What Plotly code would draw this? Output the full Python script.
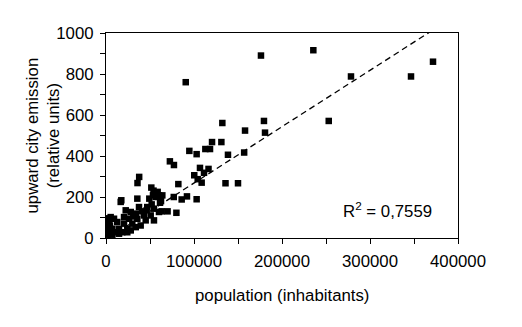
import plotly.graph_objects as go

population = [90600, 176100, 235600, 278400, 346600, 371600, 253100, 132200, 179500, 158000,
              180700, 120500, 131100, 94700, 103000, 112900, 118200, 138600, 157000, 106800,
              111400, 116500, 100300, 104200, 108700, 135800, 150000, 103000, 92000, 86000,
              77000, 80000, 70000, 63300, 72600, 77200, 82200, 37700, 35800, 51500,
              54000, 58700, 64000, 62500, 61400, 53400, 60200, 35600, 17400, 16700,
              56500, 37500, 46900, 54500, 22400, 28100, 33800, 43200, 50800, 60200,
              20500, 26100, 35600, 45100, 54500, 5300, 9100, 12800, 3400, 20500,
              29900, 39400, 1500, 7200, 14800, 24200, 33800, 3400, 11000, 18500,
              28100, 1500, 7200, 14800, 24200, 2300, 4500, 49200, 51900, 46200,
              41000, 31000]
emission = [760, 890, 916, 788, 788, 860, 571, 561, 571, 524,
            514, 468, 468, 425, 409, 434, 434, 406, 417, 342,
            318, 337, 306, 287, 270, 267, 267, 189, 203, 188,
            200, 123, 130, 130, 374, 356, 263, 298, 268, 246,
            231, 225, 208, 180, 172, 208, 208, 192, 184, 176,
            200, 151, 151, 143, 135, 127, 119, 110, 110, 127,
            102, 94, 94, 86, 86, 102, 94, 78, 70, 70,
            70, 61, 45, 45, 45, 45, 53, 28, 28, 28,
            37, 16, 16, 21, 28, 96, 61, 192, 164, 135,
            130, 105]

trend_slope = 0.00275
trend_intercept = -7
r2_label = "R<sup>2</sup> = 0,7559"

x_ticks = [0, 100000, 200000, 300000, 400000]
y_ticks = [0, 200, 400, 600, 800, 1000]

FONT = "Liberation Sans, Arial, sans-serif"
FS = 16.8

trend_x = [min(population), max(population)]
trend_y = [trend_slope * v + trend_intercept for v in trend_x]

fig = go.Figure()
fig.add_trace(go.Scatter(
    x=trend_x, y=trend_y, mode="lines",
    line=dict(color="black", width=1.3, dash="6px,4px"),
    showlegend=False, hoverinfo="skip"))
fig.add_trace(go.Scatter(
    x=population, y=emission, mode="markers",
    marker=dict(symbol="square", size=6.5, color="black", line=dict(width=0)),
    showlegend=False))

fig.update_layout(
    width=522, height=327,
    margin=dict(l=106, r=64, t=33, b=89),
    paper_bgcolor="white", plot_bgcolor="white",
    font=dict(family=FONT, size=FS, color="black"),
    xaxis=dict(range=[0, 400000], tickvals=x_ticks, ticktext=[str(v) for v in x_ticks],
               ticks="outside", ticklen=5, tickcolor="black", tickwidth=1,
               ticklabelstandoff=3,
               minor=dict(dtick=50000, ticks="outside", ticklen=5, tickcolor="black"),
               showline=True, linecolor="black", linewidth=1, mirror=True,
               showgrid=False, zeroline=False, tickfont=dict(size=FS)),
    yaxis=dict(range=[0, 1000], tickvals=y_ticks, ticktext=[str(v) for v in y_ticks],
               ticks="outside", ticklen=5, tickcolor="black", tickwidth=1,
               ticklabelstandoff=3,
               minor=dict(dtick=100, ticks="outside", ticklen=5, tickcolor="black"),
               showline=True, linecolor="black", linewidth=1, mirror=True,
               showgrid=False, zeroline=False, tickfont=dict(size=FS)),
    annotations=[
        dict(text=r2_label, xref="x", yref="y", x=320000, y=135, showarrow=False,
             xanchor="center", yanchor="middle", font=dict(size=FS)),
        dict(text="upward city emission<br>(relative units)", xref="paper", yref="paper",
             x=0, y=0.5, xshift=-63, showarrow=False, textangle=-90,
             xanchor="center", yanchor="middle", font=dict(size=FS)),
        dict(text="population (inhabitants)", xref="paper", yref="paper",
             x=0.5, y=0, yshift=-57, showarrow=False,
             xanchor="center", yanchor="middle", font=dict(size=FS)),
    ],
)

fig.write_html("out.html", config={"displayModeBar": False},
               post_script="document.body.style.margin='0';")
